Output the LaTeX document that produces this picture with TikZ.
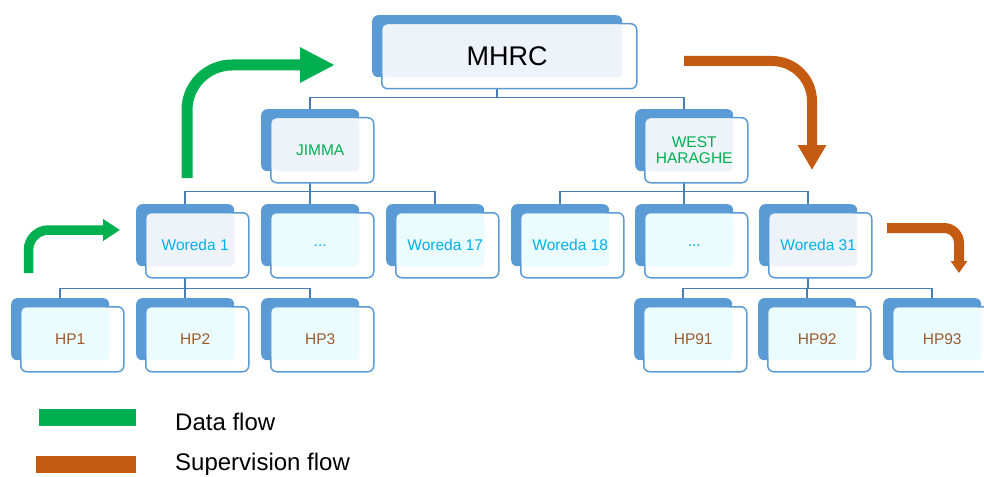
\documentclass[tikz,border=0pt]{standalone}
\usepackage{fontspec}
\setmainfont{Liberation Sans}
\usetikzlibrary{arrows.meta,backgrounds}

\definecolor{boxblue}{HTML}{5B9BD5}
\definecolor{linkblue}{HTML}{4A7DB5}
\definecolor{tintlav}{HTML}{EEF3FA}
\definecolor{tintcyan}{HTML}{EAFCFE}
\definecolor{datagreen}{HTML}{00B050}
\definecolor{superorange}{HTML}{C55A11}
\definecolor{woredacyan}{HTML}{00B0F0}
\definecolor{hpbrown}{HTML}{9C5B2E}

\newcommand{\unitfont}{\fontsize{15.5}{16}\selectfont}

\tikzset{
  backbox/.style={fill=boxblue, rounded corners=6pt, inner sep=0pt, minimum height=62pt, anchor=north west},
  frontbox/.style={draw=boxblue, line width=1.5pt, fill=white, rounded corners=6pt, inner sep=0pt, minimum height=65pt, anchor=north west},
  link/.style={draw=linkblue, line width=1.6pt},
  toptext/.style={font=\fontsize{27}{30}\selectfont, text=black},
  regiontext/.style={font=\unitfont, text=datagreen, align=center},
  woredatext/.style={font=\unitfont, text=woredacyan},
  hptext/.style={font=\unitfont, text=hpbrown},
  legendtext/.style={font=\fontsize{24}{26}\selectfont, anchor=west, inner sep=0pt},
  dataflow/.style={draw=datagreen},
  superflow/.style={draw=superorange}
}

% one unit: filled shadow box, outlined box on top, tint and label
\newcommand{\orgunit}[6]{%
  \pgfmathsetmacro{\frontw}{#3+5}%
  \node[backbox, minimum width=#3pt] (#1) at (#2) {};
  \node[frontbox, minimum width=\frontw pt] (#1-f) at ([shift={(9,8)}]#1.north west) {};
  \fill[#4, rounded corners=4.5pt] ([shift={(1.5,1.5)}]#1-f.north west) rectangle (#1.south east);
  \node[#5] (#1-t) at ([shift={(10,10)}]#1.center) {#6};
}

\begin{document}
\begin{tikzpicture}[x=1pt,y=-1pt]
\useasboundingbox (0,0) rectangle (984,476);

% levels of the hierarchy
\orgunit{mhrc}{372,15}{250}{tintlav}{toptext}{MHRC}
\orgunit{jimma}{261,109}{98}{tintlav}{regiontext}{JIMMA}
\orgunit{west}{635,109}{98}{tintlav}{regiontext}{WEST\\HARAGHE}

\orgunit{w1}{136,204}{98}{tintlav}{woredatext}{Woreda 1}
\orgunit{wa}{261,204}{98}{tintcyan}{woredatext}{...}
\orgunit{w17}{386,204}{98}{tintcyan}{woredatext}{Woreda 17}
\orgunit{w18}{511,204}{98}{tintcyan}{woredatext}{Woreda 18}
\orgunit{wb}{635,204}{98}{tintcyan}{woredatext}{...}
\orgunit{w31}{759,204}{98}{tintlav}{woredatext}{Woreda 31}

\orgunit{hp1}{11,298}{98}{tintcyan}{hptext}{HP1}
\orgunit{hp2}{136,298}{98}{tintcyan}{hptext}{HP2}
\orgunit{hp3}{261,298}{98}{tintcyan}{hptext}{HP3}
\orgunit{hp91}{634,298}{98}{tintcyan}{hptext}{HP91}
\orgunit{hp92}{758,298}{98}{tintcyan}{hptext}{HP92}
\orgunit{hp93}{883,298}{98}{tintcyan}{hptext}{HP93}

% tree lines
\begin{scope}[on background layer]
\foreach \c in {jimma,west}
  \draw[link] (mhrc.south) -- ++(0,20) -| (\c.north);
\foreach \c in {w1,wa,w17}
  \draw[link] (jimma.south) -- ++(0,20) -| (\c.north);
\foreach \c in {w18,wb,w31}
  \draw[link] (west.south) -- ++(0,20) -| (\c.north);
\foreach \c in {hp1,hp2,hp3}
  \draw[link] (w1.south) -- ++(0,22) -| (\c.north);
\foreach \c in {hp91,hp92,hp93}
  \draw[link] (w31.south) -- ++(0,22) -| (\c.north);
\end{scope}

% flow arrows
\coordinate (up-hp) at (28.5,273);
\coordinate (up-hp-tip) at (120,230);
\coordinate (up-w) at (187,178);
\coordinate (up-w-tip) at (335,65);
\coordinate (down-m) at (684,61);
\coordinate (down-m-tip) at (812,170);
\coordinate (down-w) at (887,228);
\coordinate (down-w-tip) at (959,273);

\draw[dataflow, line width=9.5pt, rounded corners=20pt, -{Triangle[length=17pt,width=21pt]}] (up-hp) |- (up-hp-tip);
\draw[dataflow, line width=11pt, rounded corners=45pt, -{Triangle[length=35pt,width=33pt]}] (up-w) |- (up-w-tip);
\draw[superflow, line width=10pt, rounded corners=40pt, -{Triangle[length=25pt,width=27pt]}] (down-m) -| (down-m-tip);
\draw[superflow, line width=10pt, rounded corners=15pt, -{Triangle[length=12pt,width=16pt]}] (down-w) -| (down-w-tip);

%Legend
\fill[datagreen] (39,409) rectangle (136,426);
\fill[superorange] (36,456) rectangle (136,473);
\node[legendtext] (leg-data) at (175,422) {Data flow};
\node[legendtext] (leg-super) at (175,464) {Supervision flow};
\end{tikzpicture}
\end{document}
